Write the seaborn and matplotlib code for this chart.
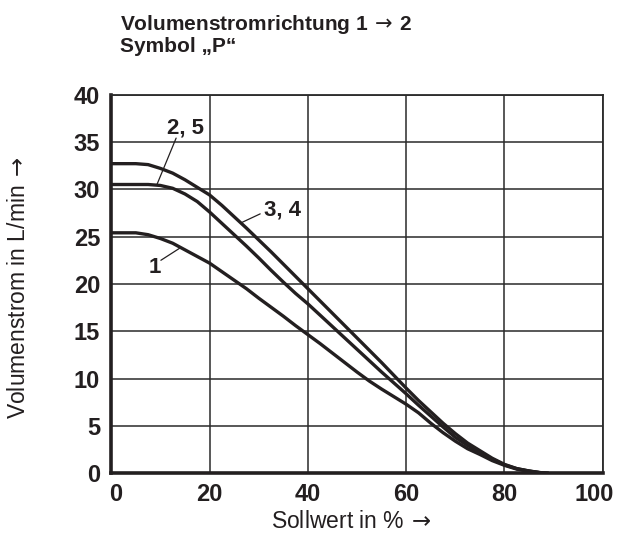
import matplotlib
matplotlib.use("Agg")
import matplotlib.pyplot as plt
import matplotlib.transforms as mtransforms
import seaborn as sns
import pandas as pd

# ---- data ----
sollwert = [0, 5, 7.5, 10, 12.5, 15, 17.5, 20, 22.5, 25, 27.5, 30, 32.5, 35, 37.5, 40,
            42.5, 45, 47.5, 50, 52.5, 55, 57.5, 60, 62.5, 65, 67.5, 70, 72.5, 75,
            77.5, 80, 82.5, 85, 87.5, 89]
curve_34 = [32.7, 32.7, 32.6, 32.2, 31.7, 31.0, 30.2, 29.4, 28.3, 27.1, 25.9, 24.65,
            23.4, 22.1, 20.8, 19.5, 18.2, 16.9, 15.6, 14.3, 13.0, 11.7, 10.35, 9.0,
            7.7, 6.5, 5.3, 4.2, 3.2, 2.4, 1.6, 0.95, 0.5, 0.25, 0.07, 0.0]
curve_25 = [30.5, 30.5, 30.5, 30.4, 30.1, 29.5, 28.7, 27.6, 26.4, 25.2, 24.0, 22.75,
            21.45, 20.2, 19.0, 17.9, 16.7, 15.5, 14.3, 13.1, 11.9, 10.7, 9.55, 8.4,
            7.2, 6.05, 4.9, 3.8, 2.95, 2.2, 1.5, 0.9, 0.5, 0.25, 0.05, 0.0]
curve_1 = [25.4, 25.4, 25.2, 24.8, 24.3, 23.6, 22.9, 22.2, 21.3, 20.4, 19.5, 18.5,
           17.55, 16.6, 15.6, 14.65, 13.7, 12.7, 11.7, 10.7, 9.75, 8.9, 8.1, 7.3,
           6.4, 5.3, 4.3, 3.4, 2.6, 2.0, 1.35, 0.85, 0.45, 0.22, 0.05, 0.0]
series_names = ["3, 4", "2, 5", "1"]
x_ticks = [0, 20, 40, 60, 80, 100]
y_ticks = [0, 5, 10, 15, 20, 25, 30, 35, 40]

title_lines = [r"Volumenstromrichtung 1$\,{\rightarrow}\,$2", "Symbol \u201eP\u201c"]
x_label = r"Sollwert in %$\,{\rightarrow}$"
y_label = r"Volumenstrom in L/min$\,{\rightarrow}$"

# curve labels: (text, label centre, leader start, leader end on curve)
annotations = [
    ("2, 5", (15.1, 36.5), (13.2, 35.4), (9.3, 30.5)),
    ("3, 4", (34.8, 27.8), (30.3, 27.4), (26.6, 26.5)),
    ("1", (8.9, 21.7), (10.1, 22.5), (14.0, 23.8)),
]

rows = []
for name, vals in zip(series_names, [curve_34, curve_25, curve_1]):
    for x, y in zip(sollwert, vals):
        rows.append({"Sollwert": x, "Volumenstrom": y, "Kurve": name})
df = pd.DataFrame(rows)

sns.set_theme(style="white")
plt.rcParams["font.family"] = ["Liberation Sans", "DejaVu Sans"]
plt.rcParams["mathtext.fontset"] = "dejavusans"

fig = plt.figure(figsize=(6.18, 5.42), dpi=100)
ax = fig.add_axes([0.180, 0.1266, 0.7954, 0.699])

ink = "#231f20"
sns.lineplot(data=df, x="Sollwert", y="Volumenstrom", hue="Kurve",
             palette={n: ink for n in series_names}, linewidth=2.4,
             legend=False, ax=ax, zorder=3)
for ln in ax.lines:
    ln.set_solid_joinstyle("round")
    ln.set_solid_capstyle("butt")

ax.set_xlim(0, 100)
ax.set_ylim(0, 40)
ax.set_xticks(x_ticks)
ax.set_yticks(y_ticks)
ax.grid(True, color="#2a2a2a", linewidth=1.1)
ax.set_axisbelow(True)

for side in ["left", "bottom"]:
    ax.spines[side].set_linewidth(2.6)
    ax.spines[side].set_color(ink)
for side in ["top", "right"]:
    ax.spines[side].set_linewidth(1.3)
    ax.spines[side].set_color("#2a2a2a")
for s in ax.spines.values():
    s.set_zorder(4)

ax.tick_params(axis="both", length=0, labelsize=17, colors=ink)
ax.tick_params(axis="x", pad=7)
ax.tick_params(axis="y", pad=8)
for lab in ax.get_xticklabels() + ax.get_yticklabels():
    lab.set_fontweight("bold")
# keep "100" inside the figure, like the reference
last = ax.get_xticklabels()[-1]
last.set_transform(last.get_transform() +
                   mtransforms.ScaledTranslation(-9 / 100, 0, fig.dpi_scale_trans))
first = ax.get_xticklabels()[0]
first.set_transform(first.get_transform() +
                    mtransforms.ScaledTranslation(4 / 100, 0, fig.dpi_scale_trans))

ax.set_xlabel(x_label, fontsize=16.5, color=ink)
ax.set_ylabel(y_label, fontsize=16.5, color=ink)
ax.xaxis.label.set_va("center")
ax.xaxis.set_label_coords(0.488, -0.127)
ax.yaxis.set_label_coords(-0.165, 0.49)

for text, tpos, start, target in annotations:
    ax.annotate("", xy=target, xytext=start,
                arrowprops=dict(arrowstyle="-", color=ink, lw=0.9,
                                shrinkA=0, shrinkB=0))
    ax.text(tpos[0], tpos[1], text, fontsize=16, fontweight="bold",
            color=ink, ha="center", va="center")

fig.text(0.194, 0.976, title_lines[0], fontsize=15, fontweight="bold",
         color=ink, ha="left", va="top")
fig.text(0.194, 0.931, title_lines[1], fontsize=15, fontweight="bold",
         color=ink, ha="left", va="top")

fig.savefig("out.png", dpi=100)
